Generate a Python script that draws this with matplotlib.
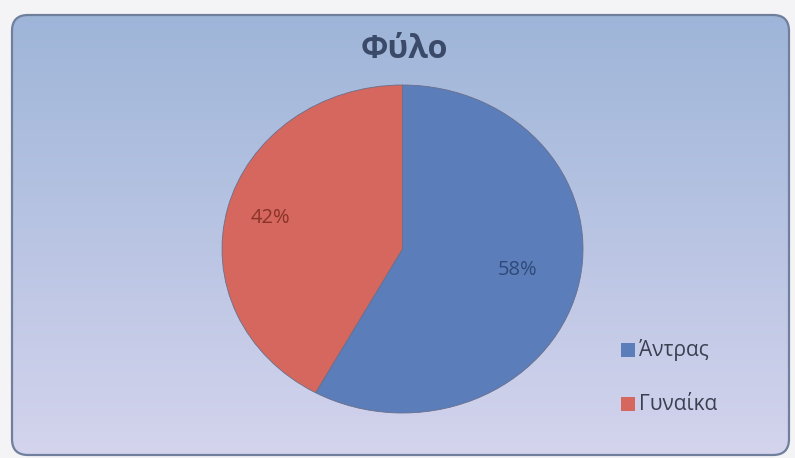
import matplotlib.pyplot as plt
import numpy as np
from matplotlib.patches import FancyBboxPatch

labels = ["Άντρας", "Γυναίκα"]
values = [58, 42]
colors = ["#5b7dba", "#d5675e"]
pct_colors = ["#2f4a78", "#8a3328"]

fig = plt.figure(figsize=(7.95, 4.58), dpi=100)
fig.patch.set_facecolor("#f4f4f6")

# chart area background: rounded box with vertical gradient
bg = fig.add_axes([0, 0, 1, 1])
bg.set_xlim(0, 795)
bg.set_ylim(458, 0)
bg.axis("off")
grad = np.linspace(0, 1, 256).reshape(-1, 1)
top = np.array([0.62, 0.71, 0.85])
bot = np.array([0.83, 0.83, 0.93])
img = top + (bot - top) * grad[..., None]
box = FancyBboxPatch((12, 15), 777, 440, boxstyle="round,pad=0,rounding_size=16",
                     facecolor="none", edgecolor="#6f7f9c", linewidth=1.6)
bg.add_patch(box)
im = bg.imshow(img, extent=(12, 789, 455, 15), aspect="auto", zorder=0)
im.set_clip_path(box)

bg.text(404, 50, "Φύλο", ha="center", va="center", fontsize=23,
        fontweight="bold", color="#3b4a68", family="Open Sans")

# pie
ax = fig.add_axes([222 / 795, 1 - 413 / 458, 361 / 795, 328 / 458])
ax.set_facecolor("none")
wedges, texts = ax.pie(values, colors=colors, startangle=90, counterclock=False,
                       wedgeprops=dict(edgecolor="#6a6f8a", linewidth=0.6))
ax.set_aspect("auto")
ax.set_xlim(-1.0, 1.0)
ax.set_ylim(-1.0, 1.0)

ang_pos = [(0.64, -0.13), (-0.73, 0.19)]
for i, v in enumerate(values):
    ax.text(ang_pos[i][0], ang_pos[i][1], f"{v}%", ha="center", va="center",
            fontsize=14.5, color=pct_colors[i], family="Open Sans")

# legend
for i, lab in enumerate(labels):
    y = 350 + i * 54
    bg.add_patch(plt.Rectangle((621, y - 7), 14, 14, facecolor=colors[i], edgecolor="none"))
    bg.text(639, y, lab, ha="left", va="center", fontsize=15,
            color="#3a4050", family="Open Sans")

fig.savefig("out.png", dpi=100, facecolor=fig.get_facecolor())
